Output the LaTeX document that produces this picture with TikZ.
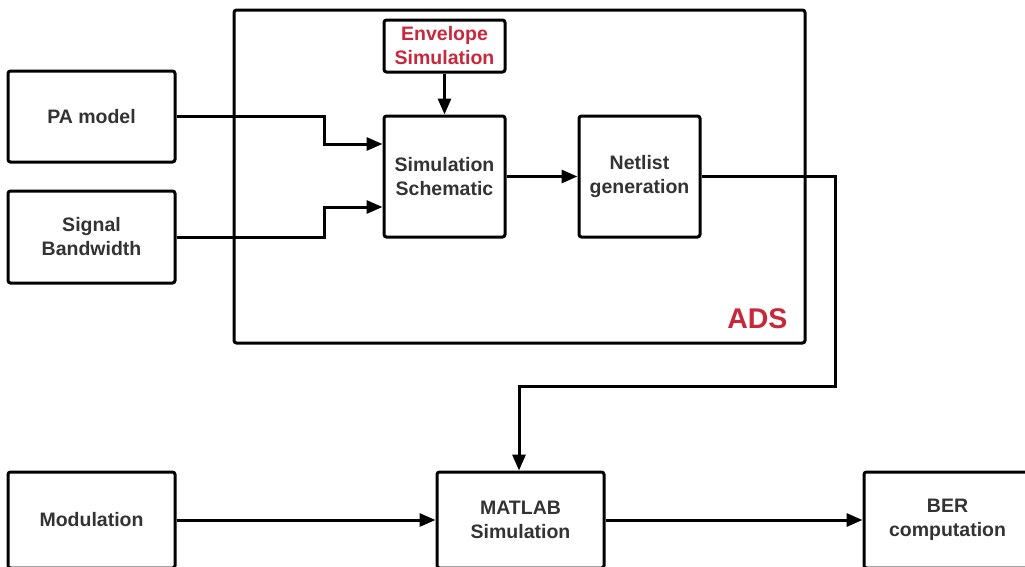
\documentclass[tikz,border=0pt]{standalone}
\usepackage{fontspec}
\setmainfont{Liberation Sans}
\usetikzlibrary{arrows.meta}
\definecolor{txt}{HTML}{333333}
\definecolor{adsred}{HTML}{C8283C}
\begin{document}
\begin{tikzpicture}[x=1pt,y=-1pt,
  blk/.style={draw=black,line width=3pt,rounded corners=2.5pt,fill=white,
    text=txt,font=\fontsize{19.5}{24}\selectfont\bfseries,align=center,inner sep=0pt},
  conn/.style={line width=3pt,-{Triangle[length=16pt,width=13pt]}}]
\useasboundingbox (0,0) rectangle (1025,566);
% ADS frame
\draw[line width=3pt,rounded corners=2.5pt] (234,10) rectangle (805,343);
\node[text=adsred,font=\fontsize{28.5}{32}\selectfont\bfseries,anchor=base east] (ads) at (791,328) {ADS};
% blocks
\node[blk,minimum width=121pt,minimum height=52pt,text=adsred] (env) at (444.5,46) {Envelope\\Simulation};
\node[blk,minimum width=167pt,minimum height=91pt] (pa) at (91.5,116.5) {PA model};
\node[blk,minimum width=167pt,minimum height=92pt] (sb) at (91.5,237) {Signal\\Bandwidth};
\node[blk,minimum width=121pt,minimum height=121pt] (ss) at (444.5,176.5) {Simulation\\Schematic};
\node[blk,minimum width=121pt,minimum height=121pt] (nl) at (639.5,176.5) {Netlist\\generation};
\node[blk,minimum width=167pt,minimum height=96pt] (mod) at (91.5,520) {Modulation};
\node[blk,minimum width=167pt,minimum height=96pt] (mat) at (520.5,520) {MATLAB\\Simulation};
\node[blk,minimum width=167pt,minimum height=96pt] (ber) at (947.5,520) {BER\\computation};
% connectors
\draw[conn] (pa.east) -| (324,144) -- (ss.west |- 0,144);
\draw[conn] (sb.east) -| (324,207) -- (ss.west |- 0,207);
\draw[conn] (env) -- (ss);
\draw[conn] (ss) -- (nl);
\draw[conn] (nl.east) -| (835,386) -| (mat.north -| 519,0);
\draw[conn] (mod) -- (mat);
\draw[conn] (mat) -- (ber);
\end{tikzpicture}
\end{document}
